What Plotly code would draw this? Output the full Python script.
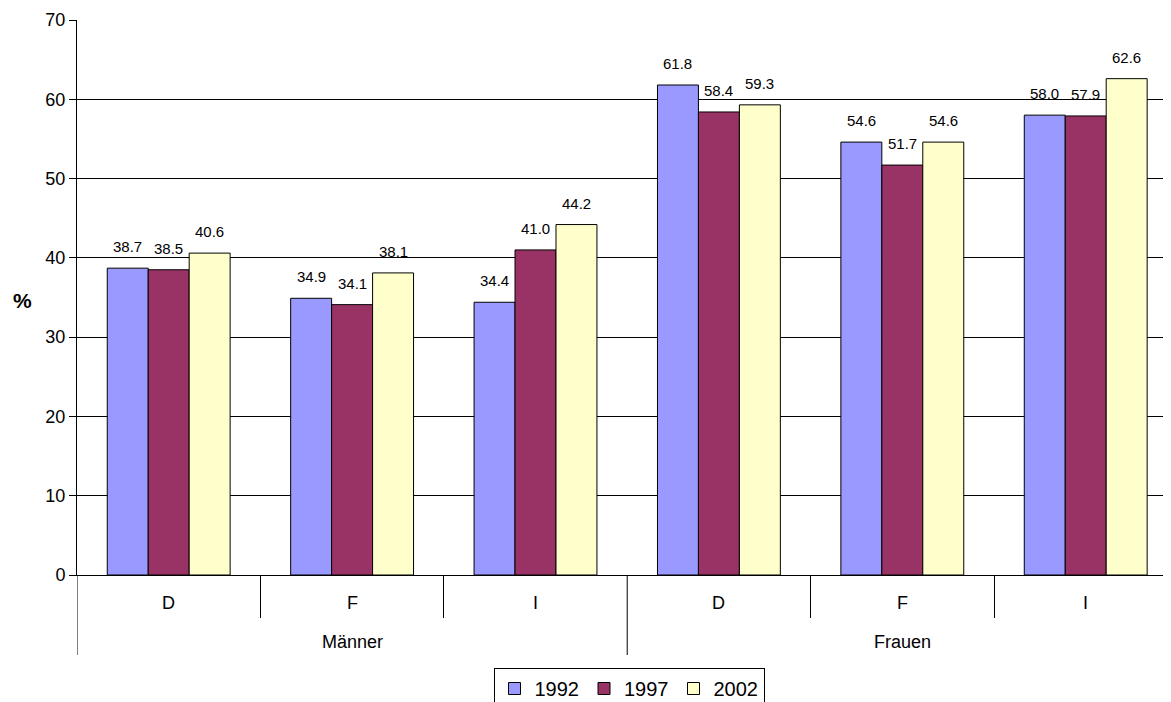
import plotly.graph_objects as go

groups = ["Männer", "Frauen"]
countries = ["D", "F", "I", "D", "F", "I"]
years = ["1992", "1997", "2002"]
v1992 = [38.7, 34.9, 34.4, 61.8, 54.6, 58.0]
v1997 = [38.5, 34.1, 41.0, 58.4, 51.7, 57.9]
v2002 = [40.6, 38.1, 44.2, 59.3, 54.6, 62.6]
colors = ["#9999FF", "#993366", "#FFFFCC"]

FONT = "Liberation Sans, Arial, sans-serif"
xpos = list(range(len(countries)))
BARGAP = 0.33
series = [v1992, v1997, v2002]

fig = go.Figure()
for name, vals, col in zip(years, series, colors):
    fig.add_trace(go.Bar(
        x=xpos, y=vals, name=name,
        marker=dict(color=col, line=dict(color="black", width=1)),
    ))

# value labels above the bars (offset within group from the bar layout)
bw = (1 - BARGAP) / len(series)
for k, vals in enumerate(series):
    for i, v in enumerate(vals):
        fig.add_annotation(text=f"{v:.1f}", xref="x", yref="y",
                           x=xpos[i] + (k - (len(series) - 1) / 2) * bw, y=v,
                           yanchor="bottom", yshift=11, showarrow=False,
                           font=dict(size=15, color="black", family=FONT))

# page body has an 8px margin; compensate so the plot area sits at x 77..1171, y 20..575
plot_h = 575 - 20
plot_w = 1171 - 77
fig.update_layout(
    width=1163, height=694,
    margin=dict(l=69, r=0, t=12, b=127, autoexpand=False),
    plot_bgcolor="white", paper_bgcolor="white",
    barmode="group", bargap=BARGAP, bargroupgap=0,
    font=dict(family=FONT, size=18, color="black"),
    legend=dict(orientation="h", x=(629 - 77) / plot_w, xanchor="center",
                y=-(668 - 575) / plot_h, yanchor="top",
                bordercolor="black", borderwidth=1, font=dict(size=20),
                traceorder="normal", itemwidth=30, tracegroupgap=0),
    showlegend=True,
)
fig.update_yaxes(range=[0, 70], dtick=10, showgrid=True, gridcolor="black", gridwidth=1,
                 showline=True, linecolor="black", linewidth=1,
                 ticks="outside", ticklen=7, tickcolor="black",
                 tickfont=dict(size=18), zeroline=False, automargin=False)
fig.update_xaxes(range=[-0.5, 5.465], showline=True, linecolor="black", linewidth=1,
                 tickmode="array", tickvals=[0.5, 1.5, 3.5, 4.5], showticklabels=False,
                 ticks="outside", ticklen=42, tickcolor="black", tickwidth=1,
                 showgrid=False, zeroline=False, automargin=False)

# outer group dividers (longer)
for xb in [-0.5, 2.5]:
    fig.add_shape(type="line", xref="x", yref="paper", x0=xb, x1=xb,
                  y0=0, y1=-(655 - 575) / plot_h, line=dict(color="black", width=1))

# inner labels
for i, c in enumerate(countries):
    fig.add_annotation(text=c, xref="x", yref="paper", x=xpos[i], y=-(603 - 575) / plot_h,
                       yanchor="middle", showarrow=False, font=dict(size=18))
# outer labels
for j, g in enumerate(groups):
    fig.add_annotation(text=g, xref="x", yref="paper", x=1 + 3 * j, y=-(642 - 575) / plot_h,
                       yanchor="middle", showarrow=False, font=dict(size=18))

fig.add_annotation(text="<b>%</b>", xref="paper", yref="paper",
                   x=(22 - 77) / plot_w, y=(575 - 300) / plot_h,
                   xanchor="center", yanchor="middle", showarrow=False, font=dict(size=21))
fig.write_html("out.html")
